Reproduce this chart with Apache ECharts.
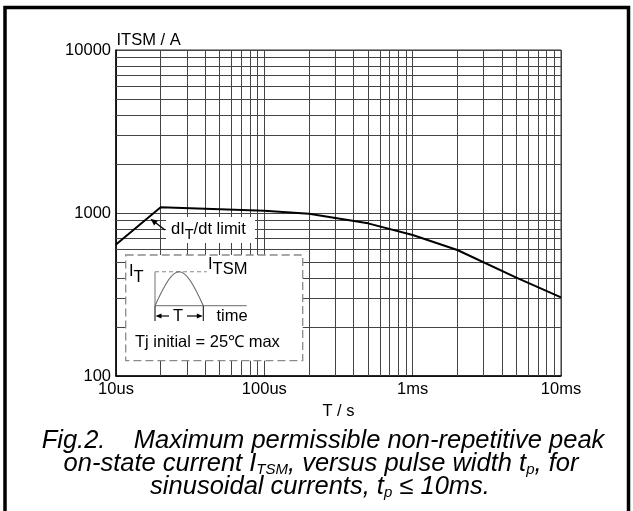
<!DOCTYPE html>
<html><head><meta charset="utf-8">
<script src="https://cdn.jsdelivr.net/npm/echarts@6/dist/echarts.min.js"></script>
<style>html,body{margin:0;padding:0;background:#fff}#c{width:633px;height:511px}</style>
</head><body><div id="c"></div>
<script>
// ---- data ----
const pulseWidthUs = [10, 20, 100, 200, 500, 1000, 2000, 5000, 10000];
const itsmA       = [640, 1084, 1033, 990, 864, 733, 593, 401, 304];
const xTickValues = [10, 100, 1000, 10000];
const xTickLabels = ['10us', '100us', '1ms', '10ms'];
const yTickValues = [100, 1000, 10000];
const yTickLabels = ['100', '1000', '10000'];
const xMinorGrid = [20,30,40,50,60,70,80,90,200,300,400,500,600,700,800,900,2000,3000,4000,5000,6000,7000,8000,9000];
const yMinorGrid = [200,300,400,500,600,700,800,900,2000,3000,4000,5000,6000,7000,8000,9000];
const yAxisTitle = 'ITSM / A';
const xAxisTitle = 'T / s';

const FF = "'Liberation Sans', Arial, sans-serif";
const gridColor = '#444';

const ctx = document.createElement('canvas').getContext('2d');
function tw(text, font) { ctx.font = font; return ctx.measureText(text).width; }

// lay out a line of text pieces (with subscripts) as graphic texts
function textRun(parts, x, y, align, baseSize, italic, z) {
  const els = [];
  const fonts = parts.map(p => (italic ? 'italic ' : '') + (p.size || baseSize) + 'px ' + FF);
  const widths = parts.map((p, i) => tw(p.t, fonts[i]));
  const total = widths.reduce((a, b) => a + b, 0);
  let cx = align === 'center' ? x - total / 2 : x;
  parts.forEach((p, i) => {
    els.push({
      type: 'text', z: z || 60, silent: true,
      style: {
        x: cx, y: y + (p.dy || 0), text: p.t,
        font: fonts[i], fill: '#000',
        align: 'left', verticalAlign: 'middle'
      }
    });
    cx += widths[i];
  });
  return els;
}

function arrowHead(tx, ty, dx, dy, len, half) {
  const n = Math.hypot(dx, dy); const ux = dx / n, uy = dy / n;
  const bx = tx - ux * len, by = ty - uy * len;
  return { type: 'polygon', z: 61, silent: true,
    shape: { points: [[tx, ty], [bx - uy * half, by + ux * half], [bx + uy * half, by - ux * half]] },
    style: { fill: '#000' } };
}

const graphics = [];
// outer frame
graphics.push({ type: 'rect', z: 200, silent: true, shape: { x: 5, y: 7.5, width: 623.5, height: 520 },
  style: { fill: 'none', stroke: '#000', lineWidth: 3.5 } });

// y axis title
graphics.push(...textRun([{ t: yAxisTitle }], 116.5, 40.5, 'left', 16.5, false));

// dI_T/dt limit annotation
graphics.push({ type: 'rect', z: 55, silent: true, shape: { x: 166, y: 217, width: 89, height: 26 }, style: { fill: '#fff' } });
graphics.push(...textRun([{ t: 'dI' }, { t: 'T', size: 14.5, dy: 6 }, { t: '/dt limit' }], 171, 229, 'left', 16.5, false));
graphics.push({ type: 'line', z: 61, silent: true, shape: { x1: 165, y1: 230, x2: 154, y2: 221.5 }, style: { stroke: '#000', lineWidth: 1.3 } });
graphics.push(arrowHead(150.5, 218.7, -10, -8, 7, 3));

// inset box
const bx = 125.7, by = 255, bw = 177, bh = 105.7;
graphics.push({ type: 'rect', z: 50, silent: true, shape: { x: bx, y: by, width: bw, height: bh },
  style: { fill: '#fff', stroke: '#8a8a8a', lineWidth: 1.3, lineDash: [8, 4] } });
// I_T
graphics.push(...textRun([{ t: 'I' }, { t: 'T', size: 16.5, dy: 6 }], 129, 271, 'left', 16.5, false));
// mini axes
const ax0 = 155, ay0 = 305.7, aTop = 271.7, sw = 48.3;
graphics.push({ type: 'line', z: 60, silent: true, shape: { x1: ax0, y1: aTop, x2: ax0, y2: ay0 }, style: { stroke: '#888', lineWidth: 1.2 } });
graphics.push({ type: 'line', z: 60, silent: true, shape: { x1: ax0, y1: ay0, x2: 246.7, y2: ay0 }, style: { stroke: '#888', lineWidth: 1.2 } });
graphics.push({ type: 'line', z: 60, silent: true, shape: { x1: ax0, y1: aTop, x2: 206.7, y2: aTop }, style: { stroke: '#888', lineWidth: 1.1, lineDash: [4, 3] } });
// half-sine pulse glyph
const hh = ay0 - aTop;
graphics.push({ type: 'bezierCurve', z: 61, silent: true,
  shape: { x1: ax0, y1: ay0, cpx1: ax0 + 0.4244 * sw, cpy1: ay0 - 1.3333 * hh, cpx2: ax0 + sw - 0.4244 * sw, cpy2: ay0 - 1.3333 * hh, x2: ax0 + sw, y2: ay0 },
  style: { stroke: '#666', lineWidth: 1.1, fill: 'none' } });
// I_TSM label
graphics.push(...textRun([{ t: 'I' }, { t: 'TSM', size: 16.5, dy: 5 }], 208, 264, 'left', 16.5, false));
// T with arrows
const ay = 316;
graphics.push({ type: 'line', z: 60, silent: true, shape: { x1: ax0, y1: 306, x2: ax0, y2: 321 }, style: { stroke: '#000', lineWidth: 1 } });
graphics.push({ type: 'line', z: 60, silent: true, shape: { x1: ax0 + sw, y1: 306, x2: ax0 + sw, y2: 321 }, style: { stroke: '#000', lineWidth: 1 } });
graphics.push({ type: 'line', z: 60, silent: true, shape: { x1: ax0 + 5, y1: ay, x2: 169, y2: ay }, style: { stroke: '#000', lineWidth: 1.2 } });
graphics.push({ type: 'line', z: 60, silent: true, shape: { x1: 187, y1: ay, x2: ax0 + sw - 5, y2: ay }, style: { stroke: '#000', lineWidth: 1.2 } });
graphics.push(arrowHead(ax0 + 0.5, ay, -1, 0, 6, 2.6));
graphics.push(arrowHead(ax0 + sw - 0.5, ay, 1, 0, 6, 2.6));
graphics.push(...textRun([{ t: 'T' }], 173, ay, 'left', 16.5, false));
graphics.push(...textRun([{ t: 'time' }], 216.5, ay, 'left', 16.5, false));
graphics.push(...textRun([{ t: 'Tj initial = 25\u2103 max' }], 135, 342.5, 'left', 16.5, false));

// caption
const capSize = 25.5;
graphics.push(...textRun([{ t: 'Fig.2.    Maximum permissible non-repetitive peak' }], 323, 441, 'center', capSize, true));
graphics.push(...textRun([{ t: 'on-state current I' }, { t: 'TSM', size: 15, dy: 6 }, { t: ', versus pulse width t' }, { t: 'p', size: 15, dy: 6 }, { t: ', for' }], 321, 464, 'center', capSize, true));
graphics.push(...textRun([{ t: 'sinusoidal currents, t' }, { t: 'p', size: 15, dy: 6 }, { t: ' \u2264 10ms.' }], 320, 487, 'center', capSize, true));

const gridLines = [
  ...xMinorGrid.map(v => ({ coords: [[v, yTickValues[0]], [v, yTickValues[yTickValues.length - 1]]] })),
  ...yMinorGrid.map(v => ({ coords: [[xTickValues[0], v], [xTickValues[xTickValues.length - 1], v]] }))
];

const chart = echarts.init(document.getElementById('c'), null, { renderer: 'canvas' });
chart.setOption({
  animation: false,
  backgroundColor: '#fff',
  textStyle: { fontFamily: FF },
  grid: { left: 116, right: 72, top: 50, bottom: 135, show: true, borderColor: '#333', borderWidth: 1, containLabel: false },
  xAxis: {
    type: 'log', logBase: 10, min: 10, max: 10000,
    name: xAxisTitle, nameLocation: 'middle', nameGap: 35,
    nameTextStyle: { fontSize: 16.5, color: '#000', fontFamily: FF, verticalAlign: 'middle' },
    axisLine: { show: true, lineStyle: { color: '#000', width: 1.5 } },
    axisTick: { show: false },
    axisLabel: { color: '#000', fontSize: 16.5, fontFamily: FF, margin: 5,
      formatter: v => { const i = xTickValues.indexOf(Math.round(v)); return i >= 0 ? xTickLabels[i] : ''; } },
    splitLine: { show: true, lineStyle: { color: gridColor, width: 1 } }
  },
  yAxis: {
    type: 'log', logBase: 10, min: 100, max: 10000,
    axisLine: { show: true, lineStyle: { color: '#000', width: 1.5 } },
    axisTick: { show: false },
    axisLabel: { color: '#000', fontSize: 16.5, fontFamily: FF, margin: 5,
      formatter: v => { const i = yTickValues.indexOf(Math.round(v)); return i >= 0 ? yTickLabels[i] : ''; } },
    splitLine: { show: true, lineStyle: { color: gridColor, width: 1 } }
  },
  series: [
    { type: 'lines', coordinateSystem: 'cartesian2d', silent: true, z: 1,
      lineStyle: { color: gridColor, width: 1, opacity: 1 }, data: gridLines },
    { type: 'line', z: 5, silent: true, symbol: 'none',
      lineStyle: { color: '#000', width: 2 },
      data: pulseWidthUs.map((t, i) => [t, itsmA[i]]) }
  ],
  graphic: { elements: graphics }
});
</script>
</body></html>
